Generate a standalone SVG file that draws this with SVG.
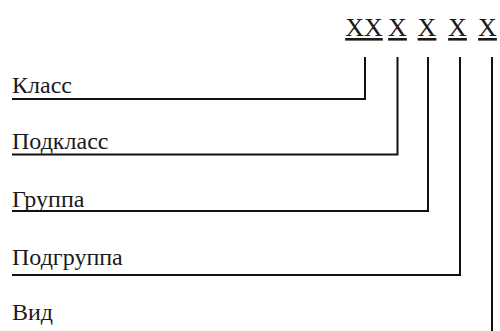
<svg xmlns="http://www.w3.org/2000/svg" width="500" height="331" viewBox="0 0 500 331">
<style>
.lbl{font-family:"Liberation Serif","Times New Roman",serif;font-size:24px;fill:#1a1a1a}
.code{font-family:"Liberation Serif","Times New Roman",serif;font-size:26px;fill:#1a1a1a;text-anchor:middle;text-decoration:underline}
.ln{fill:none;stroke:#111;stroke-width:2}
</style>
<rect width="500" height="331" fill="#fff"/>
<g id="code">
<text class="code" x="364" y="36">XX</text>
<text class="code" x="397.5" y="36">X</text>
<text class="code" x="427" y="36">X</text>
<text class="code" x="457.5" y="36">X</text>
<text class="code" x="487.5" y="36">X</text>
</g>
<g id="klass"><text class="lbl" x="12" y="93">Класс</text></g>
<g id="podklass"><text class="lbl" x="12" y="149">Подкласс</text></g>
<g id="gruppa"><text class="lbl" x="12" y="207">Группа</text></g>
<g id="podgruppa"><text class="lbl" x="12" y="265">Подгруппа</text></g>
<g id="vid"><text class="lbl" x="12" y="320">Вид</text></g>
<g id="connectors">
<polyline class="ln" points="12,99 365,99 365,57"/>
<polyline class="ln" points="12,154.5 397.5,154.5 397.5,57"/>
<polyline class="ln" points="12,211 428,211 428,57"/>
<polyline class="ln" points="12,275 460,275 460,57"/>
<polyline class="ln" points="492,57 492,331"/>
</g>
</svg>
